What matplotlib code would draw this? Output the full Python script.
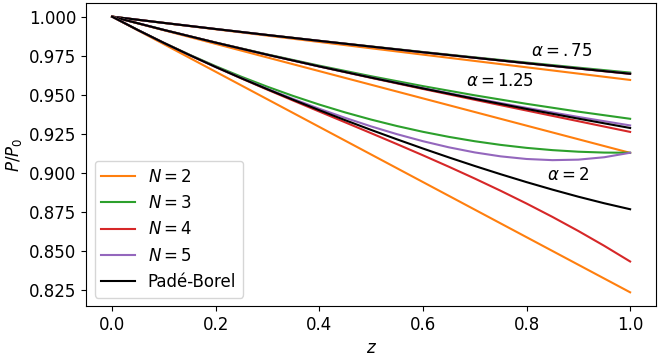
import matplotlib.pyplot as plt

# z grid (coarse for the nearly straight groups, finer for alpha = 2)
z = [0.0, 0.1, 0.2, 0.3, 0.4, 0.5, 0.6, 0.7, 0.8, 0.9, 1.0]
z_fine = [0.0, 0.05, 0.1, 0.15, 0.2, 0.25, 0.3, 0.35, 0.4, 0.45, 0.5,
          0.55, 0.6, 0.65, 0.7, 0.75, 0.8, 0.85, 0.9, 0.95, 1.0]

# alpha = .75
n2_a075 = [1.0, 0.99595, 0.99191, 0.98786, 0.98382, 0.97977, 0.97572, 0.97168, 0.96763, 0.96359, 0.95954]
n3_a075 = [1.0, 0.99600, 0.99210, 0.98828, 0.98457, 0.98095, 0.97741, 0.97399, 0.97064, 0.96740, 0.96424]
n4_a075 = [1.0, 0.99600, 0.99209, 0.98826, 0.98452, 0.98085, 0.97723, 0.97370, 0.97021, 0.96679, 0.96340]
n5_a075 = [1.0, 0.99600, 0.99209, 0.98826, 0.98452, 0.98086, 0.97726, 0.97375, 0.97029, 0.96692, 0.96359]
pb_a075 = [1.0, 0.99600, 0.99209, 0.98826, 0.98452, 0.98086, 0.97724, 0.97372, 0.97025, 0.96686, 0.96350]

# alpha = 1.25
n2_a125 = [1.0, 0.99129, 0.98259, 0.97388, 0.96517, 0.95647, 0.94776, 0.93905, 0.93034, 0.92164, 0.91293]
n3_a125 = [1.0, 0.99151, 0.98346, 0.97584, 0.96866, 0.96192, 0.95560, 0.94972, 0.94428, 0.93928, 0.93471]
n4_a125 = [1.0, 0.99150, 0.98339, 0.97561, 0.96812, 0.96087, 0.95379, 0.94685, 0.93999, 0.93317, 0.92633]
n5_a125 = [1.0, 0.99150, 0.98340, 0.97564, 0.96823, 0.96113, 0.95433, 0.94784, 0.94169, 0.93589, 0.93047]
pb_a125 = [1.0, 0.99150, 0.98339, 0.97563, 0.96818, 0.96103, 0.95411, 0.94745, 0.94101, 0.93481, 0.92883]

# alpha = 2 (on z_fine)
n2_a2 = [1.0, 0.99119, 0.98238, 0.97357, 0.96476, 0.95595, 0.94714, 0.93833, 0.92952, 0.92071, 0.91190,
         0.90309, 0.89428, 0.88547, 0.87666, 0.86785, 0.85904, 0.85023, 0.84142, 0.83261, 0.82380]
n3_a2 = [1.0, 0.99141, 0.98327, 0.97558, 0.96833, 0.96153, 0.95517, 0.94926, 0.94379, 0.93877, 0.93420,
         0.93007, 0.92639, 0.92316, 0.92037, 0.91803, 0.91613, 0.91468, 0.91367, 0.91311, 0.91300]
n4_a2 = [1.0, 0.99140, 0.98320, 0.97535, 0.96777, 0.96044, 0.95329, 0.94628, 0.93934, 0.93244, 0.92551,
         0.91851, 0.91138, 0.90407, 0.89653, 0.88871, 0.88055, 0.87200, 0.86300, 0.85352, 0.84350]
n5_a2 = [1.0, 0.99140, 0.98321, 0.97538, 0.96788, 0.96071, 0.95385, 0.94732, 0.94112, 0.93529, 0.92985,
         0.92487, 0.92039, 0.91648, 0.91322, 0.91070, 0.90902, 0.90828, 0.90860, 0.91013, 0.91300]
pb_a2 = [1.0, 0.99140, 0.98320, 0.97537, 0.96782, 0.96057, 0.95356, 0.94678, 0.94020, 0.93381, 0.92760,
         0.92157, 0.91571, 0.91003, 0.90455, 0.89928, 0.89423, 0.88944, 0.88491, 0.88072, 0.87690]

groups = [
    (z, [n2_a075, n3_a075, n4_a075, n5_a075, pb_a075]),
    (z, [n2_a125, n3_a125, n4_a125, n5_a125, pb_a125]),
    (z_fine, [n2_a2, n3_a2, n4_a2, n5_a2, pb_a2]),
]
labels = ['$N=2$', '$N=3$', '$N=4$', '$N=5$', 'Padé-Borel']
colors = ['tab:orange', 'tab:green', 'tab:red', 'tab:purple', 'black']

fig = plt.figure(figsize=(6.58, 3.58), dpi=100)
ax = fig.add_axes([0.131, 0.145, 0.866, 0.847])

for gi, (zz, curves) in enumerate(groups):
    for ci, y in enumerate(curves):
        ax.plot(zz, y, color=colors[ci], lw=1.5, label=labels[ci] if gi == 0 else None)

ax.text(0.868, 0.9782, r'$\alpha=.75$', fontsize=12, ha='center', va='center')
ax.text(0.748, 0.9588, r'$\alpha=1.25$', fontsize=12, ha='center', va='center')
ax.text(0.880, 0.8990, r'$\alpha=2$', fontsize=12, ha='center', va='center')

ax.set_xlabel('$z$', fontsize=12)
ax.set_ylabel('$P/P_0$', fontsize=12)
ax.tick_params(labelsize=12)
ax.legend(loc='lower left', fontsize=12)

fig.savefig('out.png', dpi=100)
